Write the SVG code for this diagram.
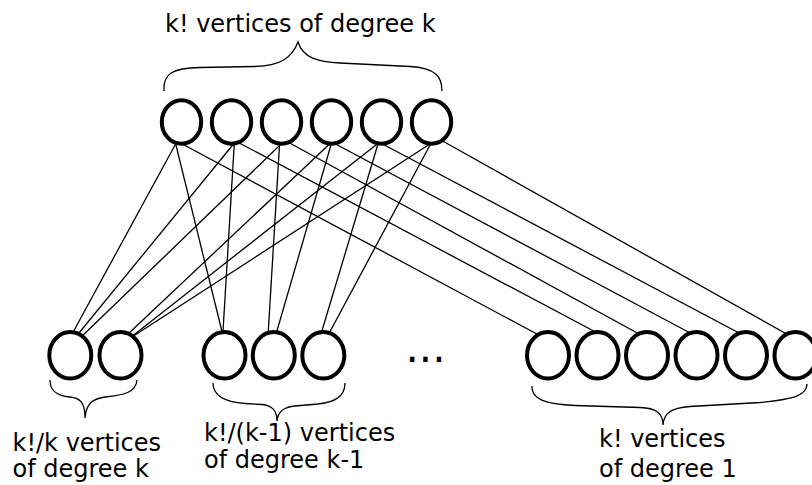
<svg xmlns="http://www.w3.org/2000/svg" width="812" height="485" viewBox="0 0 812 485">
  <style>
    .v { fill: #fff; stroke: #000; stroke-width: 4; }
    .e { stroke: #000; stroke-width: 1.3; fill: none; }
    .brace { fill: none; stroke: #000; stroke-width: 1.3; }
    .lbl { font-family: "DejaVu Sans", sans-serif; font-size: 24px; fill: #000; }
  </style>

  <!-- edges: each top vertex to one vertex in every lower group -->
  <g id="connectors">
    <line class="e" x1="177.8" y1="140" x2="69.9" y2="338"/>
    <line class="e" x1="236.8" y1="140" x2="74.9" y2="338"/>
    <line class="e" x1="285.3" y1="140" x2="80.1" y2="338"/>
    <line class="e" x1="333.8" y1="140" x2="123.8" y2="338"/>
    <line class="e" x1="382.3" y1="140" x2="129.9" y2="338"/>
    <line class="e" x1="436.1" y1="140" x2="130.4" y2="338"/>

    <line class="e" x1="174.7" y1="140" x2="223.6" y2="338"/>
    <line class="e" x1="234.5" y1="140" x2="222.6" y2="338"/>
    <line class="e" x1="279.8" y1="140" x2="267.9" y2="338"/>
    <line class="e" x1="332.4" y1="140" x2="274.9" y2="338"/>
    <line class="e" x1="379.2" y1="140" x2="319.8" y2="338"/>
    <line class="e" x1="432.7" y1="140" x2="326.6" y2="338"/>

    <line class="e" x1="174.8" y1="140" x2="544.3" y2="338"/>
    <line class="e" x1="233.6" y1="140" x2="606.8" y2="338"/>
    <line class="e" x1="284.2" y1="140" x2="646.4" y2="338"/>
    <line class="e" x1="328" y1="140" x2="699.6" y2="338"/>
    <line class="e" x1="374.9" y1="140" x2="748.5" y2="338"/>
    <line class="e" x1="440.8" y1="140" x2="793.8" y2="338"/>
  </g>

  <!-- top row: k! vertices of degree k -->
  <g id="t1"><ellipse class="v" cx="181.5" cy="122" rx="19.7" ry="21.8"/></g>
  <g id="t2"><ellipse class="v" cx="231.5" cy="122" rx="19.7" ry="21.8"/></g>
  <g id="t3"><ellipse class="v" cx="281.5" cy="122" rx="19.7" ry="21.8"/></g>
  <g id="t4"><ellipse class="v" cx="331.5" cy="122" rx="19.7" ry="21.8"/></g>
  <g id="t5"><ellipse class="v" cx="381.5" cy="122" rx="19.7" ry="21.8"/></g>
  <g id="t6"><ellipse class="v" cx="431.5" cy="122" rx="19.7" ry="21.8"/></g>

  <!-- bottom group of degree k -->
  <g id="a1"><ellipse class="v" cx="70.3" cy="355.3" rx="21" ry="23.3"/></g>
  <g id="a2"><ellipse class="v" cx="120.5" cy="355.3" rx="21" ry="23.3"/></g>

  <!-- bottom group of degree k-1 -->
  <g id="b1"><ellipse class="v" cx="224.5" cy="355.3" rx="21" ry="23.3"/></g>
  <g id="b2"><ellipse class="v" cx="273.8" cy="355.3" rx="21" ry="23.3"/></g>
  <g id="b3"><ellipse class="v" cx="323.3" cy="355.3" rx="21" ry="23.3"/></g>

  <!-- bottom group of degree 1 -->
  <g id="c1"><ellipse class="v" cx="548" cy="355.3" rx="21" ry="23.3"/></g>
  <g id="c2"><ellipse class="v" cx="597.5" cy="355.3" rx="21" ry="23.3"/></g>
  <g id="c3"><ellipse class="v" cx="647" cy="355.3" rx="21" ry="23.3"/></g>
  <g id="c4"><ellipse class="v" cx="696.5" cy="355.3" rx="21" ry="23.3"/></g>
  <g id="c5"><ellipse class="v" cx="746" cy="355.3" rx="21" ry="23.3"/></g>
  <g id="c6"><ellipse class="v" cx="795.5" cy="355.3" rx="21" ry="23.3"/></g>

  <!-- ellipsis between groups -->
  <text class="lbl" x="405.5" y="362" style="font-size:42px">...</text>

  <!-- braces -->
  <g id="braces">
    <path class="brace" d="M164,91 C163,74 172,68 200,67.5 L255,66.5 C280,66 292,58 298,42 C303,58 318,62 340,63 L410,66.5 C435,68 442,76 442,91"/>
    <path class="brace" d="M50,380 C50,392 58,396 70,397 C80,398 85,402 85,418 C86,404 92,399 105,397 C125,395 136,392 137,380"/>
    <path class="brace" d="M213,383 C213,396 225,402 245,403.5 L262,404.5 C272,405.5 277,410 277,421 C278,411 284,407 295,406 L318,404 C336,402 345,396 345,383"/>
    <path class="brace" d="M532,386 C531,399 545,404 575,405.5 L640,407.5 C656,408 663,413 663,425 C664,413 671,408 690,406.5 L760,402.5 C795,399 807,395 807,384"/>
  </g>

  <!-- labels -->
  <text class="lbl" x="165" y="32">k! vertices of degree k</text>
  <text class="lbl" x="12.5" y="451">k!/k vertices</text>
  <text class="lbl" x="12.5" y="477">of degree k</text>
  <text class="lbl" x="204" y="441">k!/(k-1) vertices</text>
  <text class="lbl" x="204" y="468">of degree k-1</text>
  <text class="lbl" x="599" y="447">k! vertices</text>
  <text class="lbl" x="599" y="477">of degree 1</text>
</svg>
